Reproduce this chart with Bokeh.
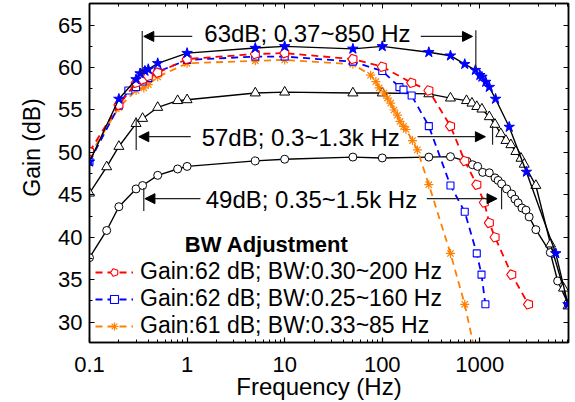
from bokeh.plotting import figure
from bokeh.models import (Range1d, LogAxis, LinearAxis, LogTicker, SingleIntervalTicker,
                          Arrow, NormalHead, Label, Legend, LegendItem, CustomJSTickFormatter)
from bokeh.embed import file_html
from bokeh.resources import INLINE

# ---- data (frequency Hz, gain dB) ----
f63 = [0.1, 0.2, 0.3, 0.33, 0.37, 0.4, 0.5, 1, 5, 10, 50, 100, 300, 500, 700, 900, 1000,
       1050, 1150, 1250, 1450, 2000, 3000, 6000, 8000]
g63 = [48.9, 56.3, 58.6, 59.3, 59.6, 59.8, 60.5, 61.7, 62.3, 62.5, 62.2, 62.5, 61.8, 61.4,
       60.4, 59.7, 59.1, 58.9, 58.3, 57.7, 56.3, 53.0, 47.7, 38.1, 32.1]

f57 = [0.1, 0.15, 0.2, 0.3, 0.35, 0.5, 0.8, 1, 5, 10, 50, 100, 300, 500, 730, 830, 930, 1050,
       1250, 1430, 1640, 1850, 2080, 2340, 2640, 2850, 3750, 5300, 7200, 8000]
g57 = [45.2, 48.3, 50.7, 53.4, 54.0, 55.3, 56.1, 56.2, 57.0, 57.1, 57.0, 57.0, 56.9, 56.4,
       56.1, 55.8, 55.4, 55.1, 54.2, 53.3, 52.2, 51.4, 50.9, 50.1, 49.3, 48.6, 46.1, 39.2,
       34.0, 31.9]

f49 = [0.1, 0.15, 0.2, 0.3, 0.35, 0.5, 0.8, 1, 5, 10, 50, 100, 300, 500, 740, 840, 950, 1070,
       1250, 1430, 1540, 1670, 1880, 2120, 2290, 2470, 2700, 2970, 3200, 3750, 5270, 6270, 8000]
g49 = [37.6, 40.8, 43.6, 45.7, 46.1, 47.3, 48.05, 48.35, 49.0, 49.2, 49.45, 49.35, 49.45, 49.5,
       48.95, 48.55, 48.35, 47.65, 47.6, 47.0, 46.7, 46.3, 45.7, 45.1, 44.5, 44.05, 43.45,
       43.2, 42.4, 40.9, 38.2, 34.85, 32.2]

fR = [0.1, 0.2, 0.3, 0.35, 0.4, 0.5, 1, 5, 10, 50, 100, 200, 300, 500, 700, 930, 1110, 1250,
      1430, 2120, 3150]
gR = [50.1, 55.6, 58.2, 58.6, 59.0, 59.4, 61.0, 61.6, 61.7, 61.0, 60.1, 58.2, 57.3, 53.1,
      49.0, 46.2, 44.1, 41.7, 40.0, 35.6, 32.1]

fB = [0.1, 0.2, 0.25, 0.3, 0.35, 0.4, 0.5, 1, 5, 10, 50, 100, 150, 165, 200, 300, 500, 700,
      930, 1040, 1140]
gB = [48.9, 55.5, 57.3, 57.7, 58.35, 58.75, 59.5, 60.9, 61.3, 61.3, 60.7, 59.6, 57.7, 57.4,
      56.7, 53.1, 46.1, 43.0, 38.1, 35.6, 32.1]

fO = [0.1, 0.2, 0.3, 0.36, 0.4, 0.5, 1, 5, 10, 50, 76, 86, 93, 104, 113, 122, 132, 143, 152,
      165, 175, 204, 229, 300, 500, 700, 880]
gO = [49.6, 55.3, 57.3, 57.6, 58.0, 58.9, 60.5, 60.8, 60.9, 60.4, 59.1, 58.35, 57.6, 57.0,
      56.4, 55.8, 55.0, 54.4, 53.65, 53.06, 52.7, 51.4, 50.3, 46.2, 38.1, 32.1, 26.8]

legend_labels = ["Gain:62 dB; BW:0.30~200 Hz", "Gain:62 dB; BW:0.25~160 Hz",
                 "Gain:61 dB; BW:0.33~85 Hz"]
band_texts = ["63dB; 0.37~850 Hz", "57dB; 0.3~1.3k Hz", "49dB; 0.35~1.5k Hz"]
band_lo = [0.347, 0.301, 0.36]
band_hi = [910, 1350, 1670]

FONT = "Liberation Sans"
NB = "\u00a0"

p = figure(width=575, height=402, x_axis_type="log",
           x_range=Range1d(0.1, 8100), y_range=Range1d(27.6, 67.55),
           output_backend="svg", toolbar_location=None,
           min_border_left=89, min_border_right=7, min_border_top=3, min_border_bottom=59)
p.xgrid.visible = False
p.ygrid.visible = False
p.outline_line_color = "black"
p.outline_line_width = 1.5
p.background_fill_color = "white"
p.border_fill_color = "white"

yt = SingleIntervalTicker(interval=5, num_minor_ticks=2)
p.yaxis.ticker = yt
p.xaxis.formatter = CustomJSTickFormatter(code="return (tick < 1) ? tick.toFixed(1) : tick.toFixed(0);")

for ax in [p.xaxis[0], p.yaxis[0]]:
    ax.major_tick_in = 5
    ax.major_tick_out = 0
    ax.minor_tick_in = 3
    ax.minor_tick_out = 0
    ax.axis_line_width = 1.5
    ax.major_tick_line_width = 1.2
    ax.minor_tick_line_width = 1.0
    ax.major_label_text_font = FONT
    ax.major_label_text_font_size = "22px"
    ax.major_label_text_color = "black"
    ax.axis_label_text_font = FONT
    ax.axis_label_text_font_style = "normal"
    ax.axis_label_text_color = "black"

# axis titles (the originals sit off-centre; non-breaking spaces shift them)
p.xaxis.axis_label = "Frequency (Hz)" + NB * 3
p.xaxis.axis_label_text_font_size = "24px"
p.yaxis.axis_label = NB * 8 + "Gain (dB)"
p.yaxis.axis_label_text_font_size = "23px"
p.xaxis.major_label_standoff = 14
p.xaxis.axis_label_standoff = -2
p.yaxis.major_label_standoff = 7
p.yaxis.axis_label_standoff = 10

empty = CustomJSTickFormatter(code="return '';")
top = LogAxis(ticker=LogTicker(), formatter=empty, major_label_text_font_size="1px",
              major_label_standoff=0, major_tick_in=5, major_tick_out=0, minor_tick_in=3,
              minor_tick_out=0, axis_line_width=1.5)
right = LinearAxis(ticker=SingleIntervalTicker(interval=5, num_minor_ticks=2), formatter=empty,
                   major_label_text_font_size="1px", major_label_standoff=0, major_tick_in=5,
                   major_tick_out=0, minor_tick_in=3, minor_tick_out=0, axis_line_width=1.5)
p.add_layout(top, "above")
p.add_layout(right, "right")

RED, BLUE, ORANGE = "#FF0000", "#0000FF", "#FF8000"
DASH = "7 5"

# black solid curves
p.line(f49, g49, line_color="black", line_width=1.4)
p.scatter(f49, g49, marker="circle", size=8, line_color="black", fill_color="white", line_width=1)
p.line(f57, g57, line_color="black", line_width=1.4)
p.scatter(f57, g57, marker="triangle", size=10, line_color="black", fill_color="white", line_width=1)

# dashed curves
lo = p.line(fO, gO, line_color=ORANGE, line_width=1.8, line_dash=DASH)
mo = p.scatter(fO, gO, marker="asterisk", size=9, line_color=ORANGE, line_width=1.2)
lb = p.line(fB, gB, line_color=BLUE, line_width=1.8, line_dash=DASH)
mb = p.scatter(fB, gB, marker="square", size=7, line_color=BLUE, fill_color="white", line_width=1.1)
lr = p.line(fR, gR, line_color=RED, line_width=1.8, line_dash=DASH)
mr = p.ngon(fR, gR, radius=5, radius_units="screen", n=5, angle=0.31416,
            line_color=RED, fill_color="white", line_width=1.1)

p.line(f63, g63, line_color="black", line_width=1.4)
p.scatter(f63, g63, marker="star", size=11, line_color=BLUE, fill_color=BLUE, line_width=1)

# bandwidth annotations
ann_y = [63.67, 51.85, 44.55]
ann_text_y = [63.96, 51.79, 44.44]
ann_text_x = [17.1, 14.6, 18.8]
tail_l = [1.13, 1.09, 1.37]
tail_r = [248, 230, 286]
tip_l = [0.36, 0.32, 0.37]
tip_r = [841, 1140, 1500]
vl_top = [64.3, 54.1, 45.8]
vl_bot = [59.2, 50.3, 43.1]
vr_top = [64.4, 53.1, 45.8]
vr_bot = [59.7, 50.9, 43.3]

p.segment(x0=band_lo, y0=vl_bot, x1=band_lo, y1=vl_top, line_color="#222222", line_width=1.2)
p.segment(x0=band_hi, y0=vr_bot, x1=band_hi, y1=vr_top, line_color="#222222", line_width=1.2)
for i in range(3):
    for xs, xe in [(tail_l[i], tip_l[i]), (tail_r[i], tip_r[i])]:
        p.add_layout(Arrow(end=NormalHead(size=10, fill_color="black", line_color="black", line_width=1),
                           x_start=xs, y_start=ann_y[i], x_end=xe, y_end=ann_y[i],
                           line_color="#222222", line_width=1.3))
    p.add_layout(Label(x=ann_text_x[i], y=ann_text_y[i], text=band_texts[i], text_align="center",
                       text_baseline="middle", text_font=FONT, text_font_size="24px",
                       text_color="black"))

p.add_layout(Label(x=6.54, y=39.14, text="BW Adjustment", text_align="center",
                   text_baseline="middle", text_font=FONT, text_font_size="22px",
                   text_font_style="bold", text_color="black"))

legend = Legend(items=[LegendItem(label=legend_labels[0], renderers=[lr, mr]),
                       LegendItem(label=legend_labels[1], renderers=[lb, mb]),
                       LegendItem(label=legend_labels[2], renderers=[lo, mo])],
                location=(6, 3), orientation="vertical", background_fill_alpha=0,
                border_line_alpha=0, label_text_font=FONT, label_text_font_size="23px",
                label_text_color="black", glyph_width=38, glyph_height=20, label_standoff=7,
                spacing=0, padding=0, margin=0, label_height=26)
p.add_layout(legend)

open("out.html", "w").write(file_html(p, INLINE))
